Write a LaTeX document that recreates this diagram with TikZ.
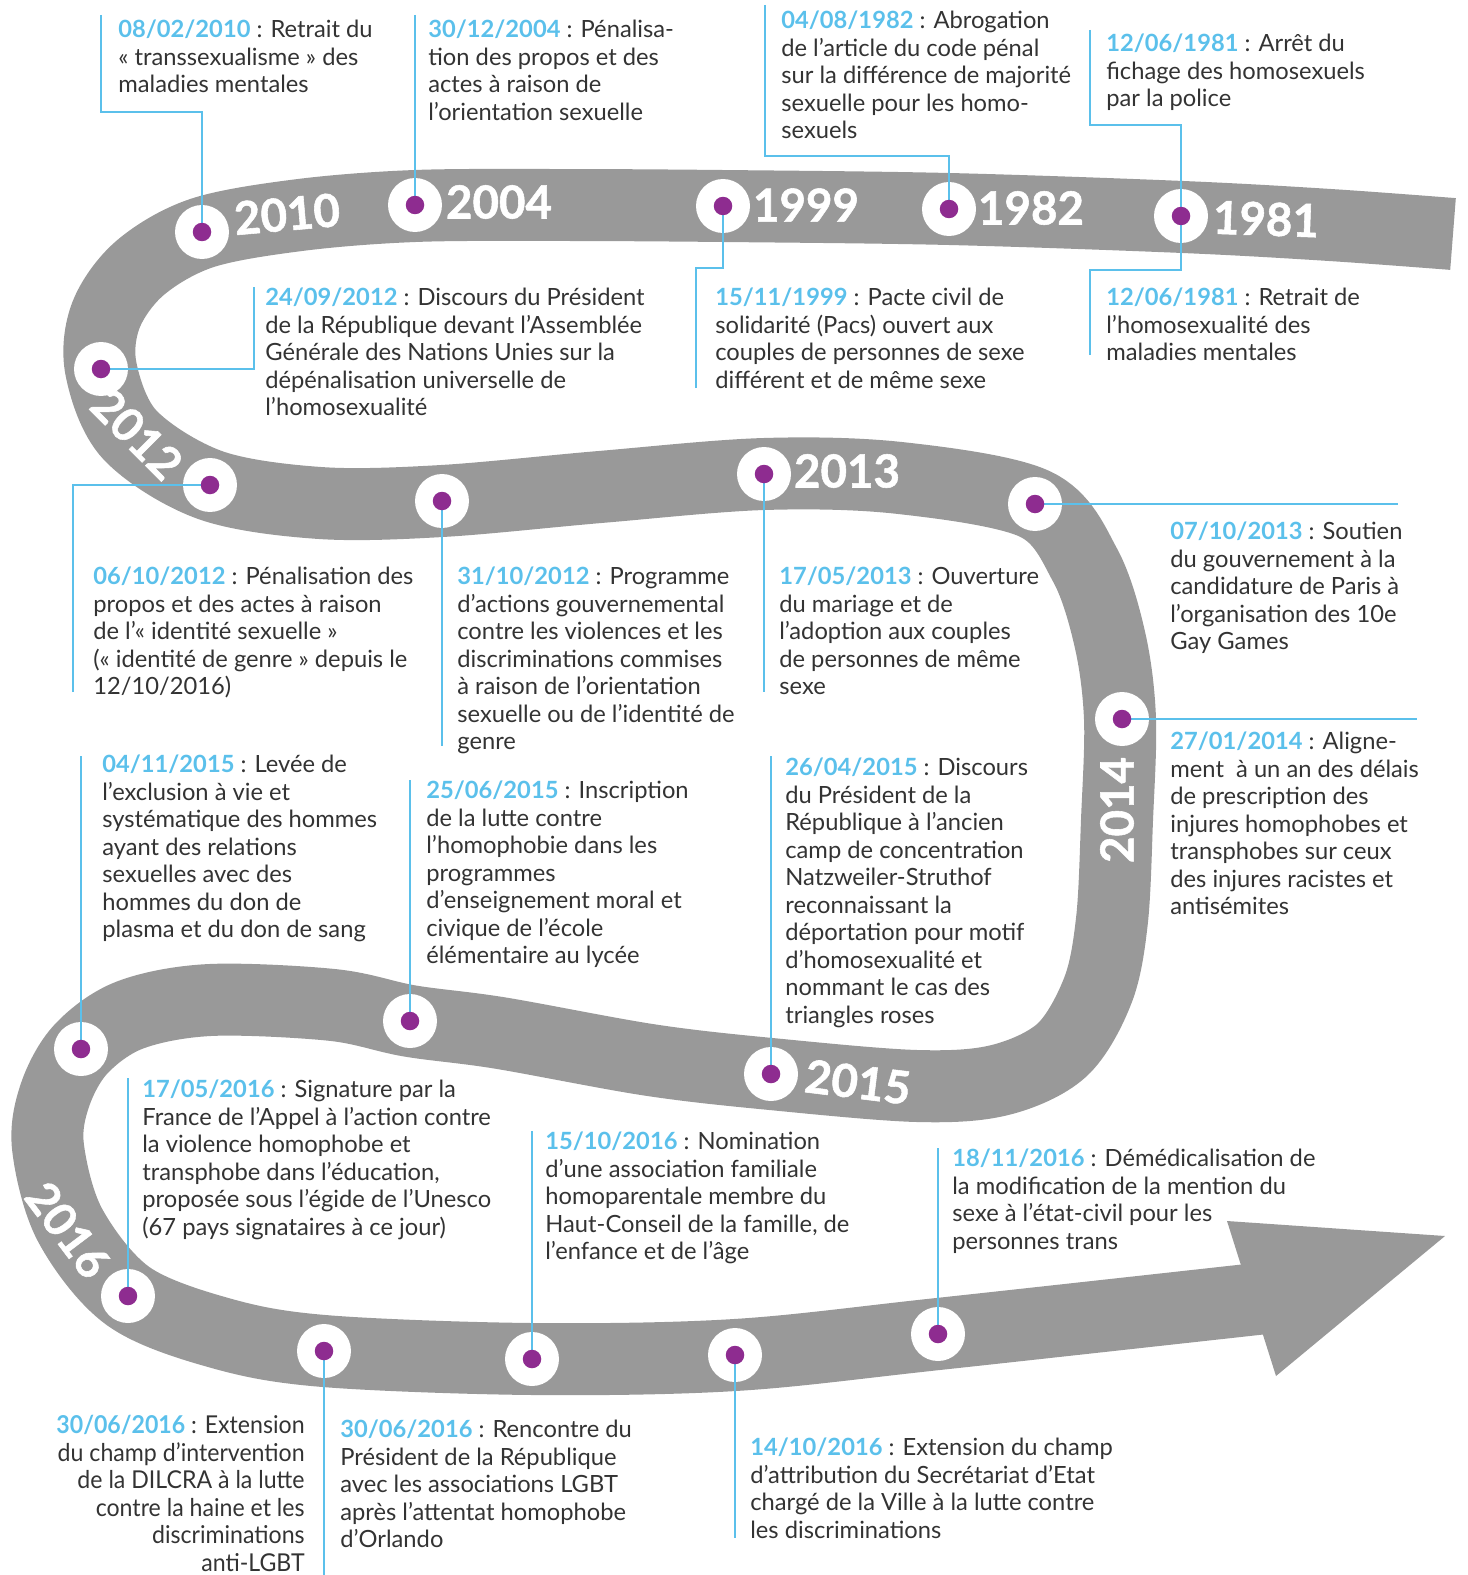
\documentclass[tikz,border=0pt]{standalone}
\usepackage{fontspec}
\setmainfont{Lato}
\newfontfamily\narrowfont{Lato}[FakeStretch=0.94]
\newfontfamily\yearfont{Lato}[BoldFeatures={FakeBold=1.2}]
\usetikzlibrary{positioning}
\definecolor{road}{HTML}{999999}
\definecolor{datecol}{HTML}{5BC0EB}
\definecolor{dotcol}{HTML}{8E2C90}
\definecolor{txtcol}{HTML}{333333}
\newcommand{\dt}[1]{\textcolor{datecol}{\textbf{#1}}}

\begin{document}
\begin{tikzpicture}[
        x=0.02cm, y=-0.02cm,
        ring/.style={circle, fill=white, minimum size=1.08cm, inner sep=0pt},
        dot/.style={circle, fill=dotcol, minimum size=0.37cm, inner sep=0pt},
        event/.style={anchor=north west, align=left, inner sep=0pt, text=txtcol,
            font=\fontsize{13.5}{15.65}\selectfont},
        year/.style={text=white, inner sep=0pt, font=\fontsize{26}{30}\selectfont\yearfont\bfseries},
        link/.style={draw=datecol, line width=0.8pt}
    ]
    \useasboundingbox (0,0) rectangle (1467,1575);

    % Road
    \draw[road, line width=1.44cm] plot[smooth, tension=0.55] coordinates {
        (1453,234) (1330,225) (1183,217) (949,209) (723,206) (560,205) (415,206)
        (300,215) (202,233) (140,268) (106,315) (101,369) (130,435) (210,485)
        (320,503) (442,501) (600,487) (764,474) (900,478) (1035,504) (1085,565)
        (1110,640) (1120,719) (1117,820) (1112,920) (1098,990) (1062,1050)
        (1000,1080) (917,1086) (771,1074) (650,1060) (500,1033) (410,1021)
        (333,1005) (210,1000) (130,1015) (81,1049) (55,1095) (48,1147) (70,1225)
        (128,1296) (220,1333) (324,1351) (532,1359) (735,1355) (938,1334) (1275,1297)};
    \fill[road] (1227,1221) -- (1445,1236) -- (1276,1376) -- cycle;

    % Years on the road
    \node[year, rotate=5] (y2010) at (287,214) {2010};
    \node[year] (y2004) at (499,202) {2004};
    \node[year] (y1999) at (806,205) {1999};
    \node[year] (y1982) at (1031,208) {1982};
    \node[year, rotate=-2] (y1981) at (1266,219) {1981};
    \node[year, rotate=-45] (y2012) at (137,434) {2012};
    \node[year] (y2013) at (847,471) {2013};
    \node[year, rotate=90] (y2014) at (1117,810) {2014};
    \node[year, rotate=-7] (y2015) at (858,1082) {2015};
    \node[year, rotate=-53] (y2016) at (68,1230) {2016};

    % Stops
    \foreach \n/\x/\y in {s10/202/232, s04/415/205, s99/723/206, s82/949/209, s81/1181/216,
        s12a/101/369, s12b/210/485, s12c/442/501, s13a/764/474, s13b/1035/504, s14/1122/719,
        s15a/771/1074, s15b/410/1021, s15c/81/1049, s16a/128/1296, s16b/324/1351,
        s16c/532/1359, s16d/735/1355, s16e/938/1334}
        \node[ring] (\n) at (\x,\y) {};

    % Events
    \node[event] (e1) at (118,20) {\dt{08/02/2010} : Retrait du\\«~transsexualisme~» des\\maladies mentales};
    \node[event] (e2) at (428,20) {\dt{30/12/2004} : Pénalisa-\\tion des propos et des\\actes à raison de\\l’orientation sexuelle};
    \node[event] (e3) at (781,11) {\dt{04/08/1982} : Abrogation\\de l’article du code pénal\\sur la différence de majorité\\sexuelle pour les homo-\\sexuels};
    \node[event] (e4) at (1106,34) {\dt{12/06/1981} : Arrêt du\\fichage des homosexuels\\par la police};
    \node[event] (e5) at (265,288) {\dt{24/09/2012} : Discours du Président\\de la République devant l’Assemblée\\Générale des Nations Unies sur la\\dépénalisation universelle de\\l’homosexualité};
    \node[event] (e6) at (715,288) {\dt{15/11/1999} : Pacte civil de\\solidarité (Pacs) ouvert aux\\couples de personnes de sexe\\différent et de même sexe};
    \node[event] (e7) at (1106,288) {\dt{12/06/1981} : Retrait de\\l’homosexualité des\\maladies mentales};
    \node[event] (e8) at (93,567) {\dt{06/10/2012} : Pénalisation des\\propos et des actes à raison\\de l’«~identité sexuelle~»\\(«~identité de genre~» depuis le\\12/10/2016)};
    \node[event] (e9) at (457,567) {\dt{31/10/2012} : Programme\\d’actions gouvernemental\\contre les violences et les\\discriminations commises\\à raison de l’orientation\\sexuelle ou de l’identité de\\genre};
    \node[event] (e10) at (779,567) {\dt{17/05/2013} : Ouverture\\du mariage et de\\l’adoption aux couples\\de personnes de même\\sexe};
    \node[event] (e11) at (1170,522) {\dt{07/10/2013} : Soutien\\du gouvernement à la\\candidature de Paris à\\l’organisation des 10e\\Gay Games};
    \node[event] (e12) at (1170,732) {\dt{27/01/2014} : Aligne-\\ment~ à un an des délais\\de prescription des\\injures homophobes et\\transphobes sur ceux\\des injures racistes et\\antisémites};
    \node[event] (e13) at (102,755) {\dt{04/11/2015} : Levée de\\l’exclusion à vie et\\systématique des hommes\\ayant des relations\\sexuelles avec des\\hommes du don de\\plasma et du don de sang};
    \node[event] (e14) at (426,781) {\dt{25/06/2015} : Inscription\\de la lutte contre\\l’homophobie dans les\\programmes\\d’enseignement moral et\\civique de l’école\\élémentaire au lycée};
    \node[event] (e15) at (785,758) {\dt{26/04/2015} : Discours\\du Président de la\\République à l’ancien\\camp de concentration\\Natzweiler-Struthof\\reconnaissant la\\déportation pour motif\\d’homosexualité et\\nommant le cas des\\triangles roses};
    \node[event] (e16) at (142,1080) {\dt{17/05/2016} : Signature par la\\France de l’Appel à l’action contre\\la violence homophobe et\\transphobe dans l’éducation,\\proposée sous l’égide de l’Unesco\\(67 pays signataires à ce jour)};
    \node[event] (e17) at (545,1132) {\dt{15/10/2016} : Nomination\\d’une association familiale\\homoparentale membre du\\Haut-Conseil de la famille, de\\l’enfance et de l’âge};
    \node[event] (e18) at (952,1149) {\dt{18/11/2016} : Démédicalisation de\\la modification de la mention du\\sexe à l’état-civil pour les\\personnes trans};
    \node[event, anchor=north east, align=right, font=\fontsize{14}{15.65}\selectfont\narrowfont] (e19) at (305,1415) {\dt{30/06/2016} : Extension\\du champ d’intervention\\de la DILCRA à la lutte\\contre la haine et les\\discriminations\\anti-LGBT};
    \node[event] (e20) at (340,1420) {\dt{30/06/2016} : Rencontre du\\Président de la République\\avec les associations LGBT\\après l’attentat homophobe\\d’Orlando};
    \node[event] (e21) at (750,1438) {\dt{14/10/2016} : Extension du champ\\d’attribution du Secrétariat d’Etat\\chargé de la Ville à la lutte contre\\les discriminations};

    % Connector ends
    \coordinate (c1) at (101,15);
    \coordinate (c2) at (415,15);
    \coordinate (c3) at (765,5);
    \coordinate (c4) at (1090,30);
    \coordinate (c5) at (254,287);
    \coordinate (c6) at (696,388);
    \coordinate (c7) at (1090,355);
    \coordinate (c8) at (73,692);
    \coordinate (c9) at (442,746);
    \coordinate (c10) at (764,692);
    \coordinate (c11) at (1398,504);
    \coordinate (c12) at (1417,719);
    \coordinate (c13) at (81,756);
    \coordinate (c14) at (410,780);
    \coordinate (c15) at (771,756);
    \coordinate (c16) at (128,1078);
    \coordinate (c17) at (532,1131);
    \coordinate (c18) at (938,1148);
    \coordinate (c19) at (324,1575);
    \coordinate (c21) at (735,1538);

    % Connectors
    \draw[link] (c1) -- ++(0,97) -| (s10.center);
    \draw[link] (c2) -- (s04.center);
    \draw[link] (c3) -- ++(0,151) -| (s82.center);
    \draw[link] (c4) -- ++(0,95) -| (s81.center);
    \draw[link] (c5) |- (s12a.center);
    \draw[link] (c6) -- ++(0,-120) -| (s99.center);
    \draw[link] (c7) -- ++(0,-85) -| (s81.center);
    \draw[link] (c8) |- (s12b.center);
    \draw[link] (s12c.center) -- (c9);
    \draw[link] (s13a.center) -- (c10);
    \draw[link] (s13b.center) -- (c11);
    \draw[link] (s14.center) -- (c12);
    \draw[link] (c13) -- (s15c.center);
    \draw[link] (c14) -- (s15b.center);
    \draw[link] (c15) -- (s15a.center);
    \draw[link] (c16) -- (s16a.center);
    \draw[link] (c17) -- (s16c.center);
    \draw[link] (c18) -- (s16e.center);
    \draw[link] (s16b.center) -- (c19);
    \draw[link] (s16d.center) -- (c21);

    % Dots
    \foreach \n in {s10, s04, s99, s82, s81, s12a, s12b, s12c, s13a, s13b, s14,
        s15a, s15b, s15c, s16a, s16b, s16c, s16d, s16e}
        \node[dot] (d\n) at (\n) {};

\end{tikzpicture}
\end{document}
